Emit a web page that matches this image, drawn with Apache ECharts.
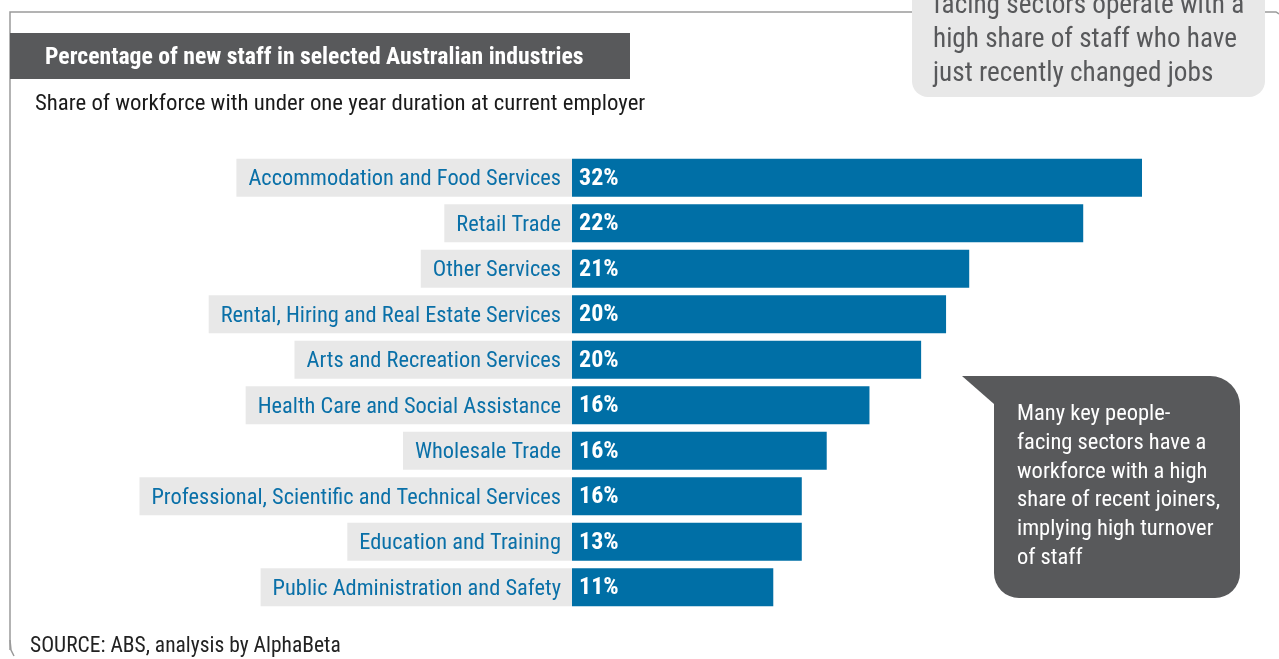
<!DOCTYPE html>
<html>
<head>
<meta charset="utf-8">
<script src="https://cdn.jsdelivr.net/npm/echarts@6/dist/echarts.min.js"></script>
<style>
  html, body { margin: 0; padding: 0; background: #fff; }
  #chart { width: 1279px; height: 659px; }
</style>
</head>
<body>
<div id="chart"></div>
<script>
// industries, top to bottom
const industries = [
    'Accommodation and Food Services',
    'Retail Trade',
    'Other Services',
    'Rental, Hiring and Real Estate Services',
    'Arts and Recreation Services',
    'Health Care and Social Assistance',
    'Wholesale Trade',
    'Professional, Scientific and Technical Services',
    'Education and Training',
    'Public Administration and Safety'
];
// bar lengths as drawn in the original (not quite proportional to the printed labels)
const barLength = [32, 28.7, 22.3, 21.0, 19.6, 16.7, 14.3, 12.9, 12.9, 11.3];
// labels printed on the bars
const printed = ['32%', '22%', '21%', '20%', '20%', '16%', '16%', '16%', '13%', '11%'];

const FONT = '"Liberation Sans Narrow", "Arial Narrow", "Roboto Condensed", "Liberation Sans", sans-serif';
const BLUE = '#006fa6';
const DARK = '#58595b';

const chart = echarts.init(document.getElementById('chart'));

let option = {
    backgroundColor: '#fff',
    animation: false,
    textStyle: { fontFamily: FONT },
    grid: { left: 572, right: 137, top: 155, bottom: 49 },
    xAxis: {
        type: 'value',
        min: 0,
        max: 32,
        show: false
    },
    yAxis: {
        type: 'category',
        inverse: true,
        data: industries,
        axisLine: { show: false },
        axisTick: { show: false },
        axisLabel: {
            margin: 0,
            backgroundColor: '#e8e8e8',
            padding: [5, 11, 1, 12],
            formatter: v => '{t|' + v + '}',
            rich: {
                t: {
                    color: '#0a70a8',
                    fontFamily: FONT,
                    fontSize: 22.4,
                    height: 32,
                    lineHeight: 32
                }
            }
        }
    },
    series: [{
        type: 'bar',
        data: barLength,
        barWidth: 38,
        itemStyle: { color: BLUE },
        label: {
            show: true,
            position: 'insideLeft',
            distance: 7,
            offset: [0, 1],
            color: '#fff',
            fontFamily: FONT,
            fontWeight: 'bold',
            fontSize: 24,
            formatter: p => printed[p.dataIndex]
        }
    }],
    graphic: [
        // frame lines
        {
            type: 'polyline',
            shape: { points: [[10, 650], [10, 12], [912, 12]] },
            style: { stroke: '#9a9a9a', lineWidth: 1.5, fill: null }
        },
        {
            type: 'polyline',
            shape: { points: [[1265, 12], [1276, 12], [1279, 14]] },
            style: { stroke: '#9a9a9a', lineWidth: 1.5, fill: null }
        },
        {
            type: 'polyline',
            shape: { points: [[10, 640], [11, 650], [14, 656]] },
            style: { stroke: '#9a9a9a', lineWidth: 1.5, fill: null }
        },
        // title bar
        {
            type: 'rect',
            shape: { x: 10, y: 33, width: 620, height: 46 },
            style: { fill: DARK }
        },
        {
            type: 'text',
            x: 45, y: 58,
            style: {
                text: 'Percentage of new staff in selected Australian industries',
                fill: '#fff', font: 'bold 23.7px ' + FONT, verticalAlign: 'middle'
            }
        },
        {
            type: 'text',
            x: 35, y: 104,
            style: {
                text: 'Share of workforce with under one year duration at current employer',
                fill: '#1a1a1a', font: '22.8px ' + FONT, verticalAlign: 'middle'
            }
        },
        {
            type: 'text',
            x: 30, y: 647,
            style: {
                text: 'SOURCE: ABS, analysis by AlphaBeta',
                fill: '#222', font: '21.5px ' + FONT, verticalAlign: 'middle'
            }
        },
        // top right note
        {
            type: 'rect',
            shape: { x: 912, y: -30, width: 353, height: 127, r: 16 },
            style: { fill: '#e8e8e8' }
        },
        {
            type: 'text',
            x: 933, y: -11,
            style: {
                text: 'facing sectors operate with a\nhigh share of staff who have\njust recently changed jobs',
                fill: DARK, font: '27.2px ' + FONT, lineHeight: 34
            }
        },
        // callout bubble
        {
            type: 'polygon',
            shape: { points: [[962, 376], [1010, 376], [1010, 404], [994, 404]] },
            style: { fill: DARK }
        },
        {
            type: 'rect',
            shape: { x: 994, y: 376, width: 246, height: 222, r: [0, 30, 25, 25] },
            style: { fill: DARK }
        },
        {
            type: 'text',
            x: 1017, y: 400,
            style: {
                text: 'Many key people-\nfacing sectors have a\nworkforce with a high\nshare of recent joiners,\nimplying high turnover\nof staff',
                fill: '#fff', font: '22.5px ' + FONT, lineHeight: 28.8
            }
        }
    ]
};

chart.setOption(option);
</script>
</body>
</html>
